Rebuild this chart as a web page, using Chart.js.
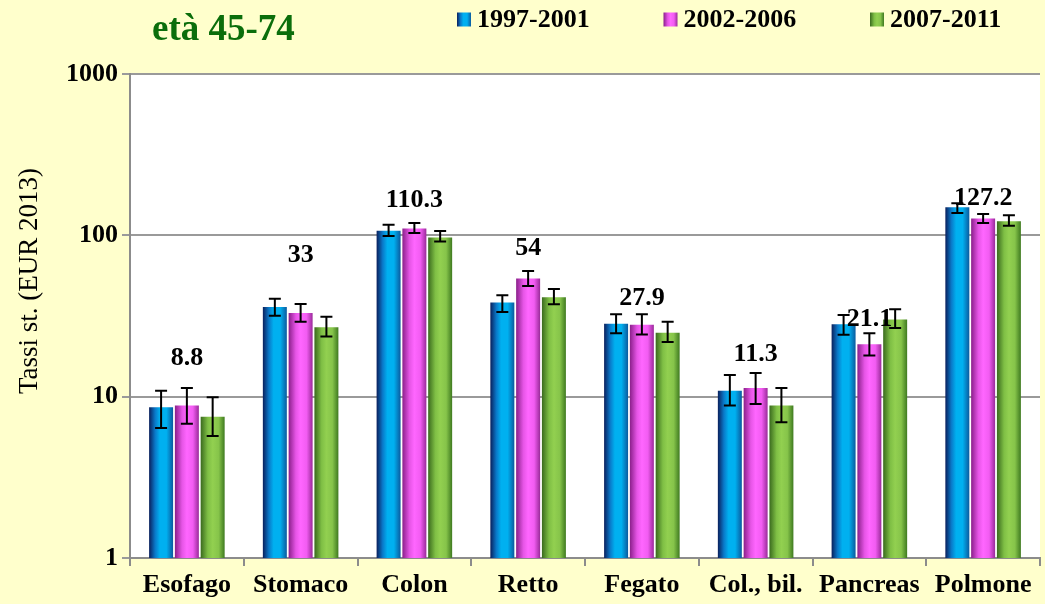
<!DOCTYPE html>
<html><head><meta charset="utf-8">
<script src="https://cdn.jsdelivr.net/npm/chart.js@4.4.0/dist/chart.umd.min.js"></script>
<style>html,body{margin:0;padding:0;background:#ffffcc;}canvas{display:block;}</style>
</head><body>
<canvas id="c" width="1045" height="604"></canvas>
<script>
const categories = ['Esofago', 'Stomaco', 'Colon', 'Retto', 'Fegato', 'Col., bil.', 'Pancreas', 'Polmone'];
const seriesNames = ['1997-2001', '2002-2006', '2007-2011'];
const rates1997 = [8.6, 35.9, 106.8, 38.3, 28.3, 10.9, 28.1, 149.2];
const low1997   = [6.4, 31.7, 99.0, 33.5, 24.7, 8.8, 24.2, 137.6];
const high1997  = [10.9, 40.5, 116.4, 42.5, 32.4, 13.6, 32.1, 158.0];
const rates2002 = [8.8, 33, 110.3, 54, 27.9, 11.3, 21.1, 127.2];
const low2002   = [6.8, 29.1, 103.3, 48.6, 24.3, 9.0, 18.0, 119.3];
const high2002  = [11.3, 37.5, 119.3, 60.0, 32.4, 14.0, 24.7, 135.7];
const rates2007 = [7.5, 26.9, 97.0, 41.3, 24.9, 8.8, 30.1, 122.1];
const low2007   = [5.7, 23.6, 91.6, 37.4, 21.8, 6.95, 26.6, 114.8];
const high2007  = [9.9, 31.3, 106.4, 46.5, 29.1, 11.3, 34.8, 133.0];
const yTicks = [1, 10, 100, 1000];
const chartTitle = 'età 45-74';
const yTitle = 'Tassi st. (EUR 2013)';

// styling (not data)
const gradStops = [
  [[0, '#0a1f5c'], [0.25, '#0a78c8'], [0.45, '#00b0f0'], [0.72, '#00b0f0'], [1, '#0b5a9e']],
  [[0, '#8a1f8a'], [0.3, '#e655e6'], [0.5, '#ff66ff'], [0.75, '#f25cf2'], [1, '#9a2a9a']],
  [[0, '#3a6a1e'], [0.3, '#7fbf45'], [0.5, '#92d050'], [0.75, '#86c44a'], [1, '#3f7a20']]
];
const baseColors = ['#00b0f0', '#ff66ff', '#92d050'];
const labelLift = [30, 49, 23, 23, 16, 19, 14, 16];
const SERIF = '"Liberation Serif", "Times New Roman", serif';

const lows = [low1997, low2002, low2007];
const highs = [high1997, high2002, high2007];

function makeGrad(ctx, x0, x1, d) {
  const g = ctx.createLinearGradient(x0, 0, x1, 0);
  gradStops[d].forEach(s => g.addColorStop(s[0], s[1]));
  return g;
}

const bgPlugin = {
  id: 'bg',
  beforeDraw(chart) {
    const {ctx, chartArea: a} = chart;
    ctx.save();
    ctx.fillStyle = '#ffffcc';
    ctx.fillRect(0, 0, chart.width, chart.height);
    ctx.fillStyle = '#ffffff';
    ctx.fillRect(a.left, a.top, a.right - a.left, a.bottom - a.top);
    ctx.restore();
  }
};

const gradPlugin = {
  id: 'grad',
  beforeDatasetsDraw(chart) {
    const ctx = chart.ctx;
    chart.data.datasets.forEach((ds, d) => {
      chart.getDatasetMeta(d).data.forEach(el => {
        el.options.backgroundColor = makeGrad(ctx, el.x - el.width / 2, el.x + el.width / 2, d);
      });
    });
  }
};

const errPlugin = {
  id: 'err',
  afterDatasetsDraw(chart) {
    const {ctx} = chart;
    const y = chart.scales.y;
    ctx.save();
    ctx.strokeStyle = '#000';
    ctx.lineWidth = 2;
    chart.data.datasets.forEach((ds, d) => {
      chart.getDatasetMeta(d).data.forEach((el, i) => {
        const yh = y.getPixelForValue(highs[d][i]);
        const yl = y.getPixelForValue(lows[d][i]);
        const x = el.x;
        ctx.beginPath();
        ctx.moveTo(x, yh); ctx.lineTo(x, yl);
        ctx.moveTo(x - 6, yh); ctx.lineTo(x + 6, yh);
        ctx.moveTo(x - 6, yl); ctx.lineTo(x + 6, yl);
        ctx.stroke();
      });
    });
    // value labels for the 2002-2006 series
    ctx.fillStyle = '#000';
    ctx.font = 'bold 26px ' + SERIF;
    ctx.textAlign = 'center';
    ctx.textBaseline = 'middle';
    chart.getDatasetMeta(1).data.forEach((el, i) => {
      const yh = y.getPixelForValue(high2002[i]);
      ctx.fillText(String(rates2002[i]), el.x, yh - labelLift[i]);
    });
    ctx.restore();
  }
};

const titleLegendPlugin = {
  id: 'titleLegend',
  afterDraw(chart) {
    const {ctx} = chart;
    ctx.save();
    ctx.fillStyle = '#0b6e0b';
    ctx.font = 'bold 37px ' + SERIF;
    ctx.textAlign = 'left';
    ctx.textBaseline = 'alphabetic';
    ctx.fillText(chartTitle, 152, 40);
    ctx.font = 'bold 26px ' + SERIF;
    ctx.textBaseline = 'middle';
    seriesNames.forEach((name, d) => {
      const bx = 457 + d * 206.5;
      ctx.fillStyle = makeGrad(ctx, bx, bx + 14, d);
      ctx.fillRect(bx, 12.5, 14, 14);
      ctx.fillStyle = '#000';
      ctx.fillText(name, bx + 20, 20);
    });
    // y axis title
    ctx.save();
    ctx.translate(30, 281);
    ctx.rotate(-Math.PI / 2);
    ctx.textAlign = 'center';
    ctx.font = '27px ' + SERIF;
    ctx.fillText(yTitle, 0, 0);
    ctx.restore();
    ctx.restore();
  }
};

const scriptColor = c => baseColors[c.datasetIndex];

new Chart(document.getElementById('c'), {
  type: 'bar',
  data: {
    labels: categories,
    datasets: [
      {label: seriesNames[0], data: rates1997, backgroundColor: scriptColor},
      {label: seriesNames[1], data: rates2002, backgroundColor: scriptColor},
      {label: seriesNames[2], data: rates2007, backgroundColor: scriptColor}
    ]
  },
  options: {
    responsive: false,
    animation: false,
    layout: {padding: {top: 74, right: 5, left: 62, bottom: 0}},
    datasets: {bar: {categoryPercentage: 0.68, barPercentage: 0.93}},
    plugins: {legend: {display: false}, tooltip: {enabled: false}},
    scales: {
      x: {
        grid: {offset: true, drawOnChartArea: false, drawTicks: true, tickLength: 8, color: '#8c8c8c', lineWidth: 2},
        border: {color: '#8c8c8c', width: 2},
        ticks: {color: '#000', font: {family: SERIF, size: 26, weight: 'bold', lineHeight: 1.0}, padding: 6, maxRotation: 0, autoSkip: false}
      },
      y: {
        type: 'logarithmic',
        min: 1, max: 1000,
        afterBuildTicks: s => { s.ticks = yTicks.map(v => ({value: v})); },
        ticks: {color: '#000', font: {family: SERIF, size: 26, weight: 'bold'}, padding: 4, callback: v => String(v)},
        grid: {color: '#9a9a9a', lineWidth: 2, tickLength: 8},
        border: {color: '#8c8c8c', width: 2}
      }
    }
  },
  plugins: [bgPlugin, gradPlugin, errPlugin, titleLegendPlugin]
});
</script>
</body></html>
